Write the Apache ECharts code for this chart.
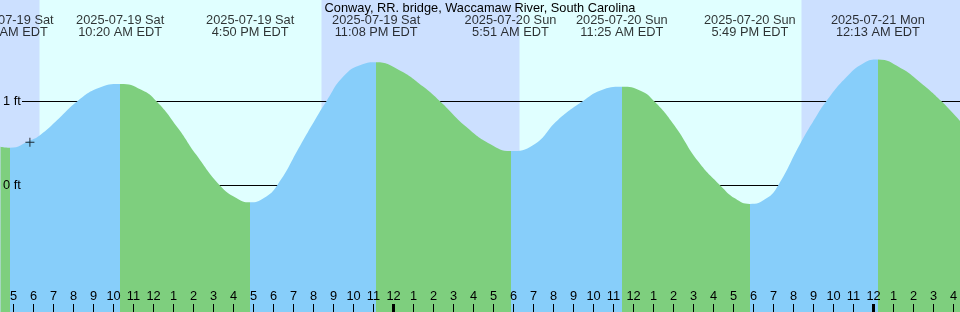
<!DOCTYPE html>
<html>
<head>
<meta charset="utf-8">
<script src="https://cdn.jsdelivr.net/npm/echarts@6/dist/echarts.min.js"></script>
<style>
html,body{margin:0;padding:0;background:#e0ffff;}
#chart{width:960px;height:312px;}
</style>
</head>
<body>
<div id="chart"></div>
<script>
var title = 'Conway, RR. bridge, Waccamaw River, South Carolina';

// hours are counted from 2025-07-19 00:00 EDT
var tideHours  = [4.8, 10.333, 16.833, 23.133, 29.85, 35.417, 41.817, 48.217];
var tideLevels = [0.45, 1.208, -0.2, 1.467, 0.41, 1.176, -0.22, 1.499];
var tideKinds  = ['low', 'high', 'low', 'high', 'low', 'high', 'low', 'high'];
var tideDates  = ['2025-07-19 Sat', '2025-07-19 Sat', '2025-07-19 Sat', '2025-07-19 Sat',
                  '2025-07-20 Sun', '2025-07-20 Sun', '2025-07-20 Sun', '2025-07-21 Mon'];
var tideTimes  = ['4:48 AM EDT', '10:20 AM EDT', '4:50 PM EDT', '11:08 PM EDT',
                  '5:51 AM EDT', '11:25 AM EDT', '5:49 PM EDT', '12:13 AM EDT'];

var curveHours = [4.35, 5.88, 6.34, 7.11, 8.18, 9.25,
  11.39, 12.16, 13.23, 14.15, 15.31, 16.14,
  17.52, 18.19, 19.35, 20.27, 20.64, 21.5, 22.42,
  24.25, 25.48, 26.34, 27.62, 28.85,
  30.99, 32.22, 33.44, 34.35,
  36.35, 37.05, 38.03, 39.25, 40.33, 41.09,
  42.63, 43.24, 44.3, 45.08, 45.63, 46.6, 47.52,
  49.35, 50.28, 51.41, 52.35];
var curveLevels = [0.462, 0.542, 0.602, 0.761, 1.0, 1.16,
  1.14, 1.0, 0.682, 0.362, 0.004, -0.148,
  -0.148, 0.004, 0.482, 0.86, 1.0, 1.299, 1.439,
  1.379, 1.179, 1.0, 0.701, 0.49,
  0.482, 0.781, 1.0, 1.132,
  1.128, 1.0, 0.721, 0.282, 0.004, -0.156,
  -0.156, 0.004, 0.482, 0.801, 1.0, 1.28, 1.459,
  1.4, 1.239, 1.0, 0.761];

var nightSpans = [[4.3, 6.3], [20.4, 30.3], [44.4, 52.4]];
var hourTicks = [5, 6, 7, 8, 9, 10, 11, 12, 13, 14, 15, 16, 17, 18, 19, 20, 21, 22, 23, 24,
  25, 26, 27, 28, 29, 30, 31, 32, 33, 34, 35, 36, 37, 38, 39, 40, 41, 42, 43, 44, 45, 46, 47, 48,
  49, 50, 51, 52];
var midnightTicks = [24, 48];
var levelTicks = [0, 1];
var markHour = 5.82, markLevel = 0.514;

var xMin = 4.325, xMax = 52.325, yMin = -1.506, yMax = 2.208;
var lineStart = 5.425;
var floodColor = '#87cefa', ebbColor = '#7ecf7e', nightColor = '#cce0ff';
var font = '"Liberation Sans", Arial, sans-serif';
var fs = 12.8;

// curve points plus the high / low points, in time order
var curve = curveHours.map(function (h, i) { return [h, curveLevels[i]]; })
  .concat(tideHours.map(function (h, i) { return [h, tideLevels[i]]; }))
  .sort(function (a, b) { return a[0] - b[0]; });

var pieces = [];
var prev = 0;
tideHours.forEach(function (h, i) {
  pieces.push({ gte: prev, lt: h, color: tideKinds[i] === 'high' ? floodColor : ebbColor });
  prev = h;
});
pieces.push({ gte: prev, lt: 100, color: tideKinds[tideKinds.length - 1] === 'high' ? ebbColor : floodColor });

var chart = echarts.init(document.getElementById('chart'));
chart.setOption({
  animation: false,
  backgroundColor: '#e0ffff',
  grid: { left: 0, right: 0, top: 0, bottom: 0, containLabel: false, outerBoundsMode: 'none' },
  xAxis: [{
    type: 'value', min: xMin, max: xMax, position: 'bottom', z: 10,
    axisLine: { show: false, onZero: false }, splitLine: { show: false },
    axisTick: { show: true, inside: true, length: 8, customValues: hourTicks, lineStyle: { color: '#000', width: 1 } },
    axisLabel: {
      show: true, inside: true, margin: 9, customValues: hourTicks,
      color: '#000', fontSize: fs, fontFamily: font,
      formatter: function (v) { return String((Math.round(v) % 12) || 12); }
    }
  }, {
    type: 'value', min: xMin, max: xMax, position: 'bottom', z: 10,
    axisLine: { show: false, onZero: false }, splitLine: { show: false }, axisLabel: { show: false },
    axisTick: { show: true, inside: true, length: 8, customValues: midnightTicks, lineStyle: { color: '#000', width: 3 } }
  }],
  yAxis: {
    type: 'value', min: yMin, max: yMax, position: 'left', z: 10,
    axisLine: { show: false, onZero: false }, axisTick: { show: false }, splitLine: { show: false },
    axisLabel: { inside: true, margin: 3, customValues: levelTicks, formatter: '{value} ft', color: '#000', fontSize: fs, fontFamily: font }
  },
  visualMap: { type: 'piecewise', show: false, dimension: 0, seriesIndex: 2, pieces: pieces },
  graphic: [{
    type: 'text', x: 480, y: 8, z: 20,
    style: { text: title, align: 'center', verticalAlign: 'middle', font: fs + 'px ' + font, fill: '#000' }
  }],
  series: [{
    type: 'line', data: curve, symbol: 'none', lineStyle: { opacity: 0 }, silent: true, z: 1,
    markArea: {
      silent: true, z: 1,
      itemStyle: { color: nightColor, opacity: 1 },
      data: nightSpans.map(function (s) { return [{ xAxis: s[0] }, { xAxis: s[1] }]; })
    }
  }, {
    type: 'line', data: curve, symbol: 'none', lineStyle: { opacity: 0 }, silent: true, z: 2,
    markLine: {
      silent: true, z: 2, symbol: 'none', label: { show: false },
      lineStyle: { color: '#000', width: 1, type: 'solid' },
      data: levelTicks.map(function (l) { return [{ coord: [lineStart, l] }, { coord: [xMax, l] }]; })
    }
  }, {
    type: 'line', data: curve, smooth: true, symbol: 'none', silent: true, z: 3,
    lineStyle: { width: 0, opacity: 0 },
    areaStyle: { opacity: 1, origin: 'start' }
  }, {
    type: 'scatter', z: 5, silent: true, clip: false, symbolSize: 0,
    data: tideHours.map(function (h) { return [h, yMax]; }),
    label: {
      show: true, position: [0, 14.5], align: 'center', verticalAlign: 'top',
      lineHeight: 12, color: '#000', fontSize: fs, fontFamily: font,
      formatter: function (p) { return tideDates[p.dataIndex] + '\n' + tideTimes[p.dataIndex]; }
    }
  }, {
    type: 'scatter', z: 6, silent: true,
    data: [[markHour, markLevel]],
    symbol: 'path://M4,0H5V4H9V5H5V9H4V5H0V4H4Z', symbolSize: 9,
    itemStyle: { color: '#000' }
  }]
});
</script>
</body>
</html>
